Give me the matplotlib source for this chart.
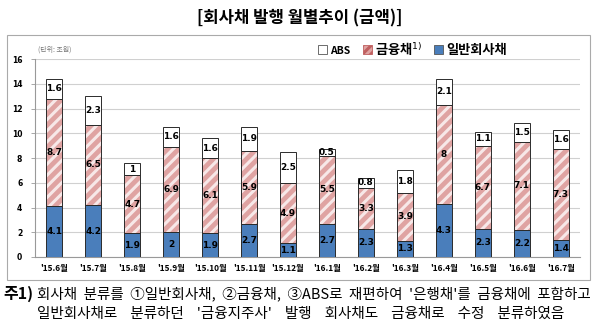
import numpy as np
import matplotlib.pyplot as plt
from matplotlib.patches import Patch, Rectangle

plt.rcParams['font.family'] = ['Noto Sans CJK KR', 'DejaVu Sans']
plt.rcParams['hatch.linewidth'] = 2.2

# 데이터 (단위: 조원)
months = ["'15.6월", "'15.7월", "'15.8월", "'15.9월", "'15.10월", "'15.11월", "'15.12월",
          "'16.1월", "'16.2월", "'16.3월", "'16.4월", "'16.5월", "'16.6월", "'16.7월"]
general = [4.1, 4.2, 1.9, 2, 1.9, 2.7, 1.1, 2.7, 2.3, 1.3, 4.3, 2.3, 2.2, 1.4]
financial = [8.7, 6.5, 4.7, 6.9, 6.1, 5.9, 4.9, 5.5, 3.3, 3.9, 8, 6.7, 7.1, 7.3]
abs_ = [1.6, 2.3, 1, 1.6, 1.6, 1.9, 2.5, 0.5, 0.8, 1.8, 2.1, 1.1, 1.5, 1.6]

blue = '#4a7ebb'
pink = '#dfa3a2'
edge = '#2b2b2b'

fig = plt.figure(figsize=(6, 3.28), dpi=100)
ax = fig.add_axes([0.058, 0.2165, 0.909, 0.6035])

x = np.arange(len(months))
w = 0.42
g = np.array(general)
f = np.array(financial)
a = np.array(abs_)

ax.bar(x, g, w, color=blue, edgecolor=edge, linewidth=0.7, zorder=3)
# 금융채: 분홍 빗금
ax.bar(x, f, w, bottom=g, color=pink, edgecolor='#f7e8e8', hatch='///', linewidth=0, zorder=3)
ax.bar(x, f, w, bottom=g, fill=False, edgecolor=edge, linewidth=0.7, zorder=4)
ax.bar(x, a, w, bottom=g + f, color='white', edgecolor=edge, linewidth=0.7, zorder=3)

# 값 라벨
for i in range(len(x)):
    ax.text(x[i], g[i] / 2, f'{general[i]:g}', ha='center', va='center',
            fontsize=6.5, fontweight='bold', color='black', zorder=5, family='DejaVu Sans')
    ax.text(x[i], g[i] + f[i] / 2, f'{financial[i]:g}', ha='center', va='center',
            fontsize=6.5, fontweight='bold', color='black', zorder=5, family='DejaVu Sans')
    ax.text(x[i], g[i] + f[i] + a[i] / 2, f'{abs_[i]:g}', ha='center', va='center',
            fontsize=6.5, fontweight='bold', color='black', zorder=5, family='DejaVu Sans')

ax.set_xlim(-0.5, len(x) - 0.5)
ax.set_ylim(0, 16)
ax.set_yticks(range(0, 17, 2))
ax.set_yticklabels([str(v) for v in range(0, 17, 2)], fontsize=5.5, fontweight='bold',
                   family='DejaVu Sans')
ax.set_xticks(x)
ax.set_xticklabels(months, fontsize=6, fontweight='bold')
ax.tick_params(axis='x', length=0, pad=5)
ax.tick_params(axis='y', length=3, width=0.6, color='#999999', pad=6)
ax.grid(axis='y', color='#d0d0d0', linewidth=0.8, zorder=0)
for s in ['top', 'right']:
    ax.spines[s].set_visible(False)
for s in ['left', 'bottom']:
    ax.spines[s].set_color('#999999')
    ax.spines[s].set_linewidth(0.8)

# 범례
handles = [Patch(facecolor='white', edgecolor='#555555', linewidth=0.6),
           Patch(facecolor=pink, edgecolor='#c06060', hatch='////', linewidth=0.6),
           Patch(facecolor=blue, edgecolor='#555555', linewidth=0.6)]
labels = ['ABS', '금융채$^{1)}$', '일반회사채']
leg = fig.legend(handles, labels, loc='center left', bbox_to_anchor=(0.51, 0.851),
                 ncol=3, frameon=False, handlelength=0.7, handleheight=0.7,
                 handletextpad=0.25, columnspacing=0.9, prop={'size': 9.5, 'weight': 'bold'})
leg.get_texts()[0].set_fontsize(7.5)

fig.text(0.063, 0.848, '(단위: 조원)', fontsize=5, color='#777777', ha='left', va='center')

# 제목
fig.text(0.5, 0.945, '[회사채 발행 월별추이 (금액)]', fontsize=12, fontweight='bold',
         ha='center', va='center')

# 차트 테두리
fig.patches.append(Rectangle((0.012, 0.147), 0.972, 0.747, transform=fig.transFigure,
                             fill=False, edgecolor='#aaaaaa', linewidth=0.8))

# 주석
fig.text(0.005, 0.105, "주1)", fontsize=11.5, fontweight='bold', ha='left', va='center')
fig.text(0.062, 0.105, "회사채  분류를  ①일반회사채,  ②금융채,  ③ABS로  재편하여  '은행채'를  금융채에  포함하고",
         fontsize=10.45, ha='left', va='center')
fig.text(0.062, 0.043, "일반회사채로    분류하던    '금융지주사'    발행    회사채도    금융채로    수정    분류하였음",
         fontsize=10.5, ha='left', va='center')

fig.savefig('out.png', dpi=100)
